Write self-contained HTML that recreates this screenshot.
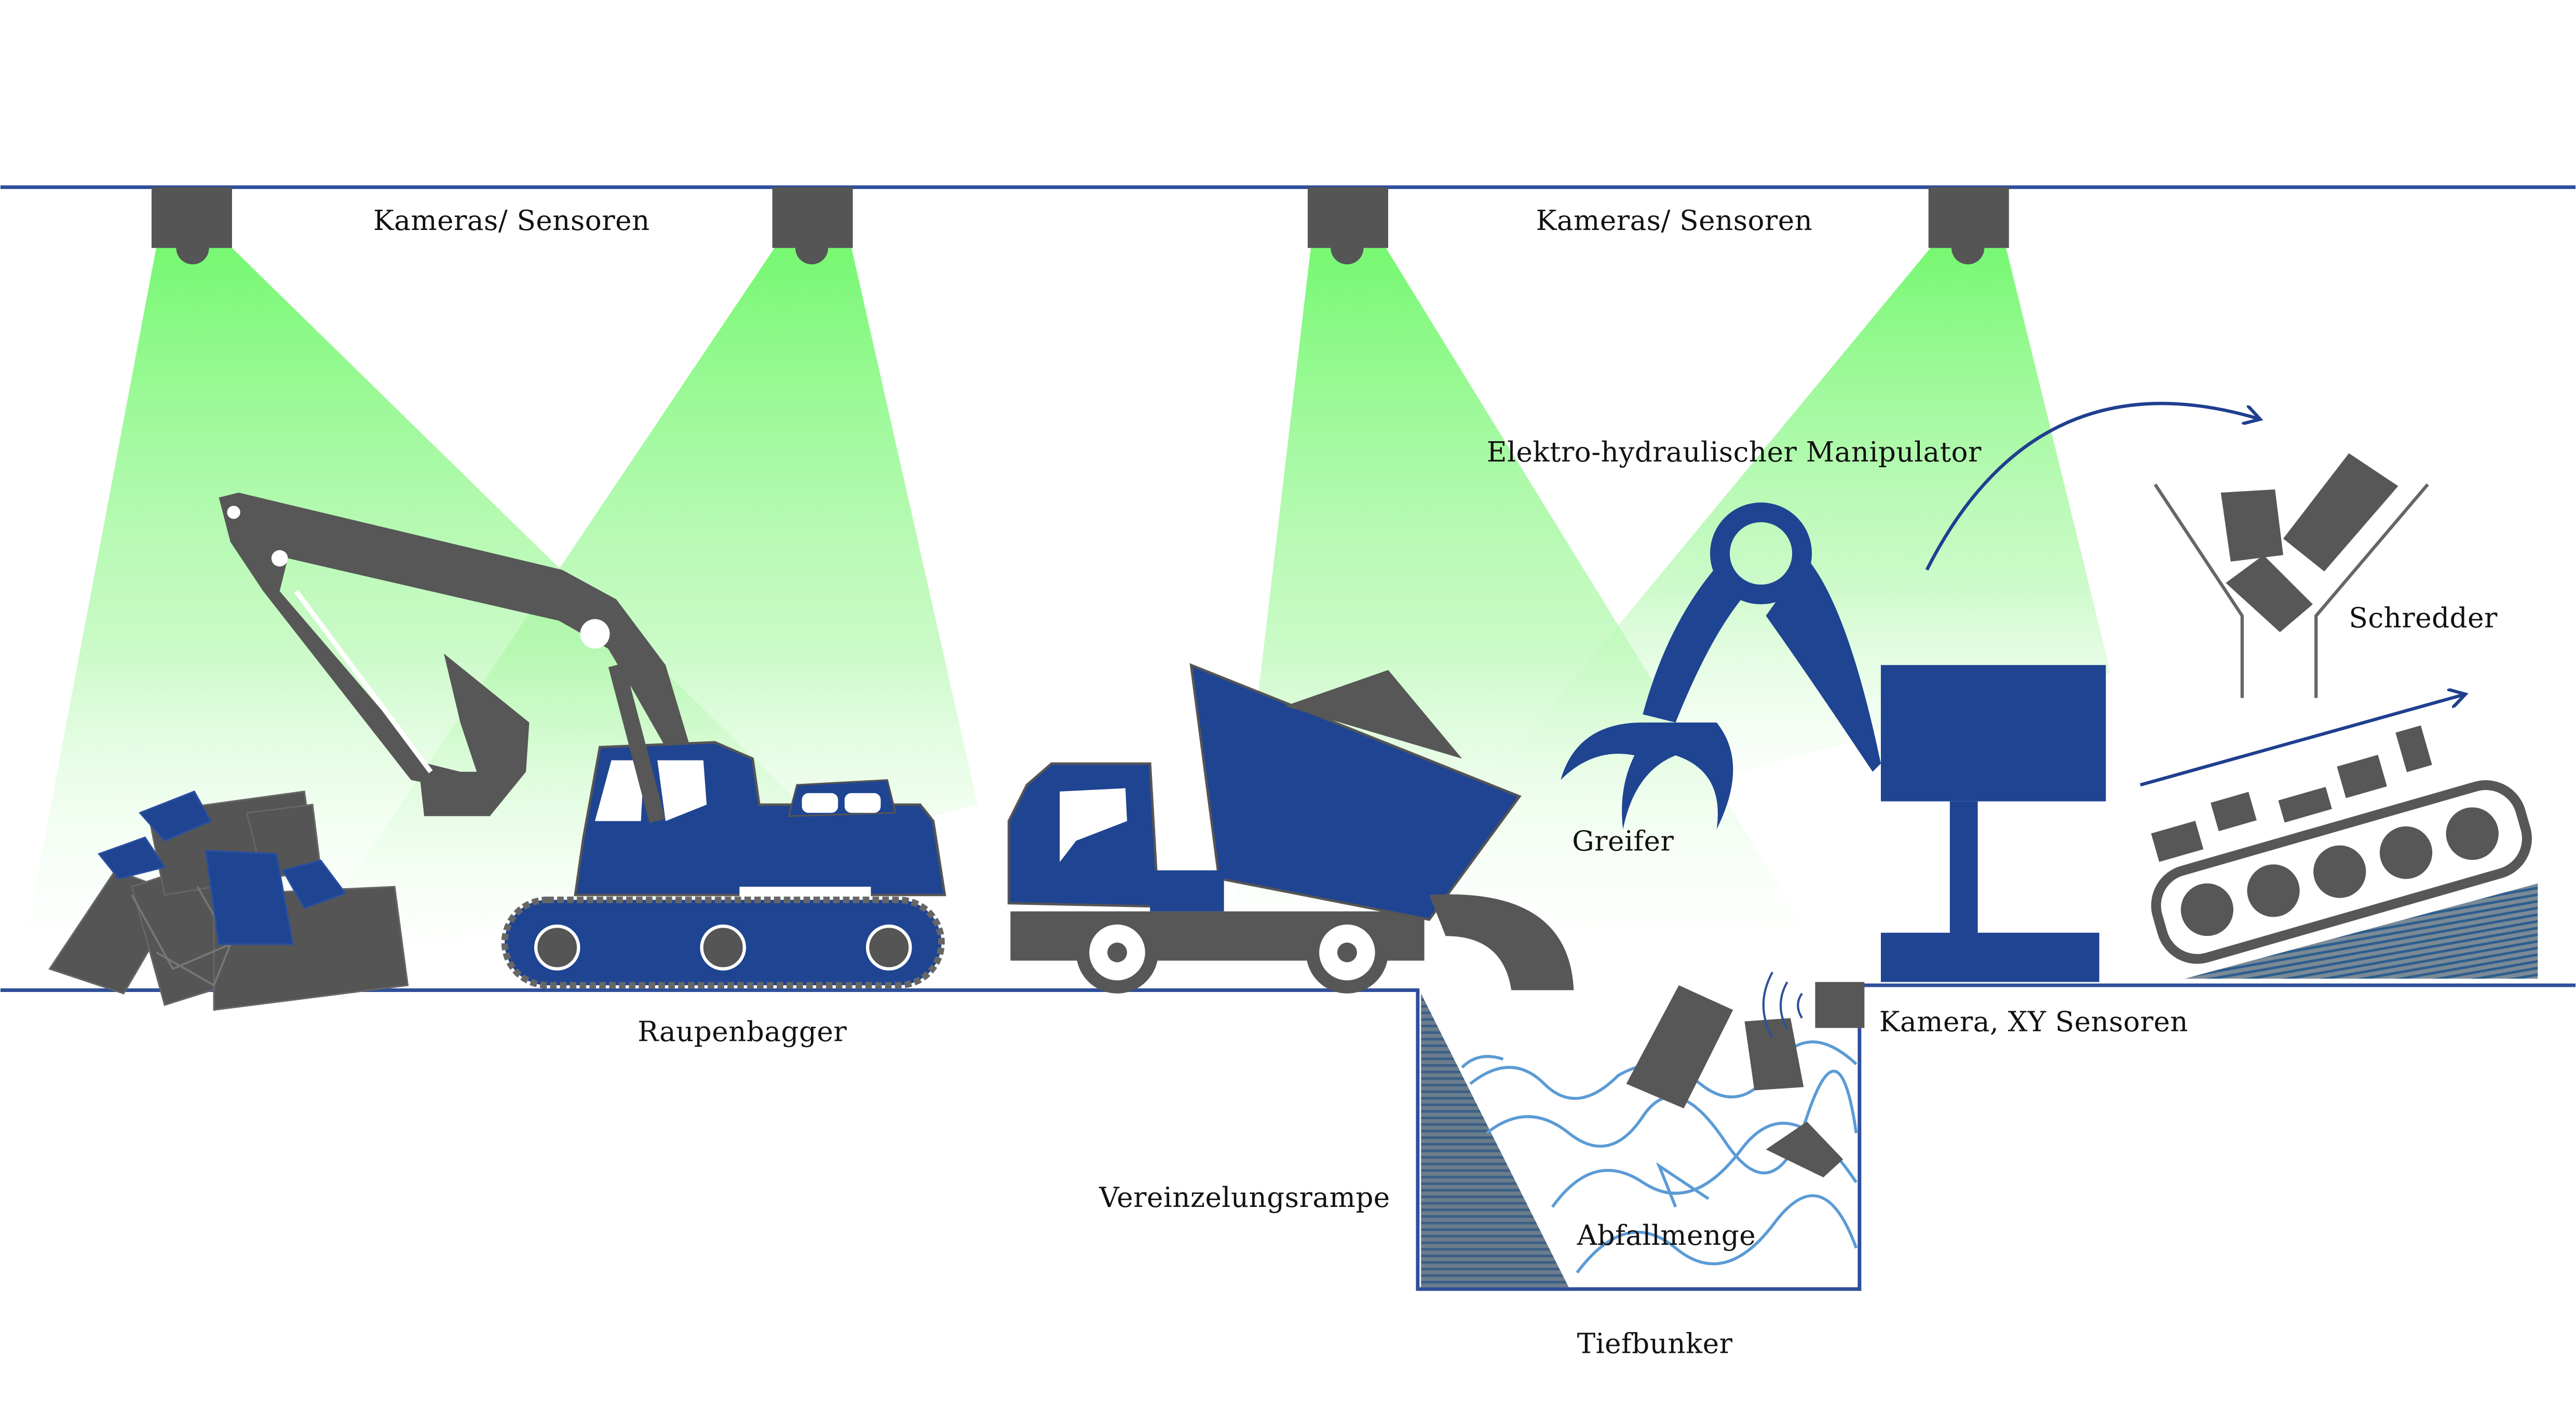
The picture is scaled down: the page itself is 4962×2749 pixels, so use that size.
<!DOCTYPE html>
<html><head><meta charset="utf-8">
<style>
html,body{margin:0;padding:0;background:#fff;}
svg{display:block;}
text{font-family:"DejaVu Serif","Liberation Serif",serif;font-size:16.8px;letter-spacing:0.15px;fill:#111;}
</style></head>
<body>
<svg width="4962" height="2749" viewBox="0 0 1568 869" xmlns="http://www.w3.org/2000/svg">
<defs>
<linearGradient id="g" x1="0" y1="0" x2="0" y2="1">
<stop offset="0" stop-color="#6ff86a" stop-opacity="0.95"/>
<stop offset="0.55" stop-color="#a9f7a4" stop-opacity="0.6"/>
<stop offset="1" stop-color="#ffffff" stop-opacity="0"/>
</linearGradient>
<pattern id="h" width="4" height="4" patternUnits="userSpaceOnUse">
<rect width="4" height="4" fill="#6b7d8c"/><rect width="4" height="1.6" fill="#3c5f86"/>
</pattern>
<pattern id="h2" width="4" height="4" patternUnits="userSpaceOnUse" patternTransform="rotate(80)">
<rect width="4" height="4" fill="#7a8a96"/><rect width="1.6" height="4" fill="#2e5e8e"/>
</pattern>
<marker id="ar" markerWidth="12" markerHeight="12" refX="9" refY="6" orient="auto" markerUnits="userSpaceOnUse">
<path d="M0,0 L10,6 L0,12" fill="none" stroke="#1f3f8f" stroke-width="2"/>
</marker>
</defs>

<polygon points="95,150 140,150 600,600 10,600" fill="url(#g)"/>
<polygon points="472,150 518,150 595,490 170,600" fill="url(#g)"/>
<polygon points="798,150 843,150 1120,600 745,600" fill="url(#g)"/>
<polygon points="1176,150 1221,150 1285,410 870,520" fill="url(#g)"/>

<line x1="0" y1="114" x2="1568" y2="114" stroke="#2f4f9a" stroke-width="2.2"/>
<line x1="0" y1="603" x2="864" y2="603" stroke="#2f4f9a" stroke-width="2.2"/>
<line x1="1132" y1="600" x2="1568" y2="600" stroke="#2f4f9a" stroke-width="2.2"/>
<polyline points="863,603 863,785 1132,785 1132,603" fill="none" stroke="#2f4f9a" stroke-width="2.2"/>

<g fill="#555">
<rect x="92" y="114" width="49" height="37"/><circle cx="117" cy="151" r="10"/>
<rect x="470" y="114" width="49" height="37"/><circle cx="494" cy="151" r="10"/>
<rect x="796" y="114" width="49" height="37"/><circle cx="820" cy="151" r="10"/>
<rect x="1174" y="114" width="49" height="37"/><circle cx="1198" cy="151" r="10"/>
</g>

<g fill="#555" stroke="#666" stroke-width="1">
<polygon points="30,590 70,530 110,545 75,605"/>
<polygon points="80,540 140,520 170,590 100,612"/>
<polygon points="130,545 240,540 248,600 130,615"/>
<polygon points="90,495 185,482 192,530 100,545"/>
<polygon points="150,495 190,490 195,530 160,535"/>
</g>
<g fill="none" stroke="#777" stroke-width="1.2">
<polyline points="80,545 105,590 140,575 120,540"/>
<polyline points="95,580 130,600 140,575"/>
</g>
<g fill="#1f4492" stroke="#2a4fa0">
<polygon points="85,495 118,482 128,500 100,512"/>
<polygon points="60,520 88,510 100,528 72,535"/>
<polygon points="125,518 168,520 178,575 133,575"/>
<polygon points="172,530 195,524 210,544 185,553"/>
</g>

<g fill="#575757">
<polygon points="133,303 145,300 342,347 375,365 405,405 420,455 405,455 385,420 370,395 340,378 175,340 170,360 260,465 280,470 275,480 250,475 160,360 140,330"/>
<polygon points="270,398 322,440 320,470 298,497 258,497 255,470 290,470 280,440"/>
</g>
<circle cx="142" cy="312" r="4" fill="#fff"/>
<circle cx="170" cy="340" r="5" fill="#fff"/>
<circle cx="362" cy="386" r="9" fill="#fff"/>
<line x1="180" y1="360" x2="262" y2="470" stroke="#fff" stroke-width="3"/>
<polygon points="365,455 435,452 458,462 462,490 560,490 568,500 575,545 350,545 355,510" fill="#1f4492" stroke="#555" stroke-width="1.5"/>
<polygon points="372,463 392,463 390,500 362,500" fill="#fff"/>
<polygon points="400,463 428,463 430,490 405,500" fill="#fff"/>
<polygon points="485,478 540,475 545,495 480,497" fill="#1f4492" stroke="#555" stroke-width="1"/>
<rect x="488" y="483" width="22" height="12" rx="4" fill="#fff"/><rect x="514" y="483" width="22" height="12" rx="4" fill="#fff"/>
<line x1="375" y1="405" x2="400" y2="500" stroke="#575757" stroke-width="10"/>
<rect x="450" y="540" width="80" height="6" fill="#fff"/>
<rect x="307" y="548" width="266" height="52" rx="26" fill="#1f4492" stroke="#666" stroke-width="4" stroke-dasharray="4 2"/>
<g fill="#555" stroke="#fff" stroke-width="2">
<circle cx="339" cy="577" r="13"/><circle cx="440" cy="577" r="13"/><circle cx="541" cy="577" r="13"/>
</g>

<rect x="615" y="555" width="252" height="30" fill="#575757"/>
<polygon points="625,478 640,465 700,465 705,552 614,550 614,500" fill="#1f4492" stroke="#555" stroke-width="1.5"/>
<polygon points="645,482 685,480 686,500 655,512 645,525" fill="#fff"/>
<polygon points="725,405 925,485 870,560 742,535" fill="#1f4492" stroke="#555" stroke-width="1.5"/>
<rect x="700" y="530" width="45" height="25" fill="#1f4492"/>
<polygon points="782,430 845,408 890,462" fill="#575757"/>
<path d="M870,545 Q955,540 958,603 L920,603 Q915,570 880,570 Z" fill="#575757"/>
<circle cx="680" cy="580" r="21" fill="#fff" stroke="#575757" stroke-width="8"/>
<circle cx="820" cy="580" r="21" fill="#fff" stroke="#575757" stroke-width="8"/>
<circle cx="680" cy="580" r="6" fill="#575757"/><circle cx="820" cy="580" r="6" fill="#575757"/>

<circle cx="1072" cy="337" r="25" fill="none" stroke="#1f4492" stroke-width="12"/>
<path d="M1045,345 Q1015,380 1000,435 L1020,440 Q1040,390 1060,365 Z" fill="#1f4492"/>
<path d="M1100,340 Q1125,370 1145,465 L1140,470 Q1100,410 1075,375 Z" fill="#1f4492"/>
<path d="M1000,440 Q960,440 950,475 Q970,455 995,460 Q985,480 988,505 Q995,470 1020,460 Q1050,470 1045,505 Q1065,465 1045,440 Z" fill="#1f4492"/>
<rect x="1145" y="405" width="137" height="83" fill="#1f4492"/>
<rect x="1187" y="488" width="17" height="82" fill="#1f4492"/>
<rect x="1145" y="568" width="133" height="30" fill="#1f4492"/>

<g fill="none" stroke="#666" stroke-width="2">
<polyline points="1312,295 1365,375 1365,425"/>
<polyline points="1478,295 1410,375 1410,425"/>
</g>
<g fill="#575757">
<polygon points="1352,300 1385,298 1390,338 1358,342"/>
<polygon points="1430,276 1460,296 1415,348 1390,328"/>
<polygon points="1355,355 1378,338 1408,368 1388,385"/>
</g>
<g transform="rotate(-16 1420 530)">
<rect x="1310" y="505" width="230" height="55" rx="22" fill="#fff" stroke="#575757" stroke-width="6"/>
<g fill="#575757"><circle cx="1340" cy="532" r="16"/><circle cx="1382" cy="532" r="16"/><circle cx="1424" cy="532" r="16"/><circle cx="1466" cy="532" r="16"/><circle cx="1508" cy="532" r="16"/></g>
<g fill="#575757"><rect x="1320" y="478" width="28" height="18"/><rect x="1360" y="470" width="24" height="18"/><rect x="1400" y="480" width="30" height="14"/><rect x="1440" y="470" width="26" height="20"/><rect x="1480" y="460" width="16" height="25"/></g>
</g>
<polygon points="1330,596 1545,596 1545,538" fill="url(#h2)"/>
<path d="M1173,347 Q1240,215 1375,255" fill="none" stroke="#1f3f8f" stroke-width="2" marker-end="url(#ar)"/>
<line x1="1303" y1="478" x2="1500" y2="423" stroke="#1f3f8f" stroke-width="2" marker-end="url(#ar)"/>

<polygon points="865,605 865,784 955,784" fill="url(#h)"/>
<g fill="none" stroke="#5b9bd5" stroke-width="1.8">
<path d="M895,660 Q920,640 940,660 T985,655 Q1010,640 1035,660 T1080,650 T1130,648"/>
<path d="M905,690 Q930,670 955,690 T1000,680 T1050,695 T1100,680 T1130,690"/>
<path d="M890,650 Q900,640 915,645"/>
<path d="M945,735 Q970,700 1000,720 T1060,700 T1130,720"/>
<path d="M960,775 Q990,735 1020,760 T1080,745 T1130,760"/>
<path d="M1020,735 L1010,710 L1040,730"/>
</g>
<g fill="#575757">
<polygon points="1022,600 1055,615 1025,675 990,660"/>
<polygon points="1062,622 1090,620 1098,662 1068,664"/>
<polygon points="1075,700 1100,683 1122,706 1110,717"/>
<rect x="1105" y="598" width="30" height="28"/>
</g>
<g fill="none" stroke="#2f4f9a" stroke-width="1.3">
<path d="M1097,605 Q1092,612 1097,620"/><path d="M1088,598 Q1080,612 1088,627"/><path d="M1079,592 Q1068,612 1079,632"/>
</g>

<text x="227" y="140">Kameras/ Sensoren</text>
<text x="935" y="140">Kameras/ Sensoren</text>
<text x="905" y="281">Elektro-hydraulischer Manipulator</text>
<text x="957" y="518">Greifer</text>
<text x="1430" y="382">Schredder</text>
<text x="1144" y="628">Kamera, XY Sensoren</text>
<text x="388" y="634">Raupenbagger</text>
<text x="669" y="735">Vereinzelungsrampe</text>
<text x="960" y="758">Abfallmenge</text>
<text x="960" y="824">Tiefbunker</text>
</svg>
</body></html>
